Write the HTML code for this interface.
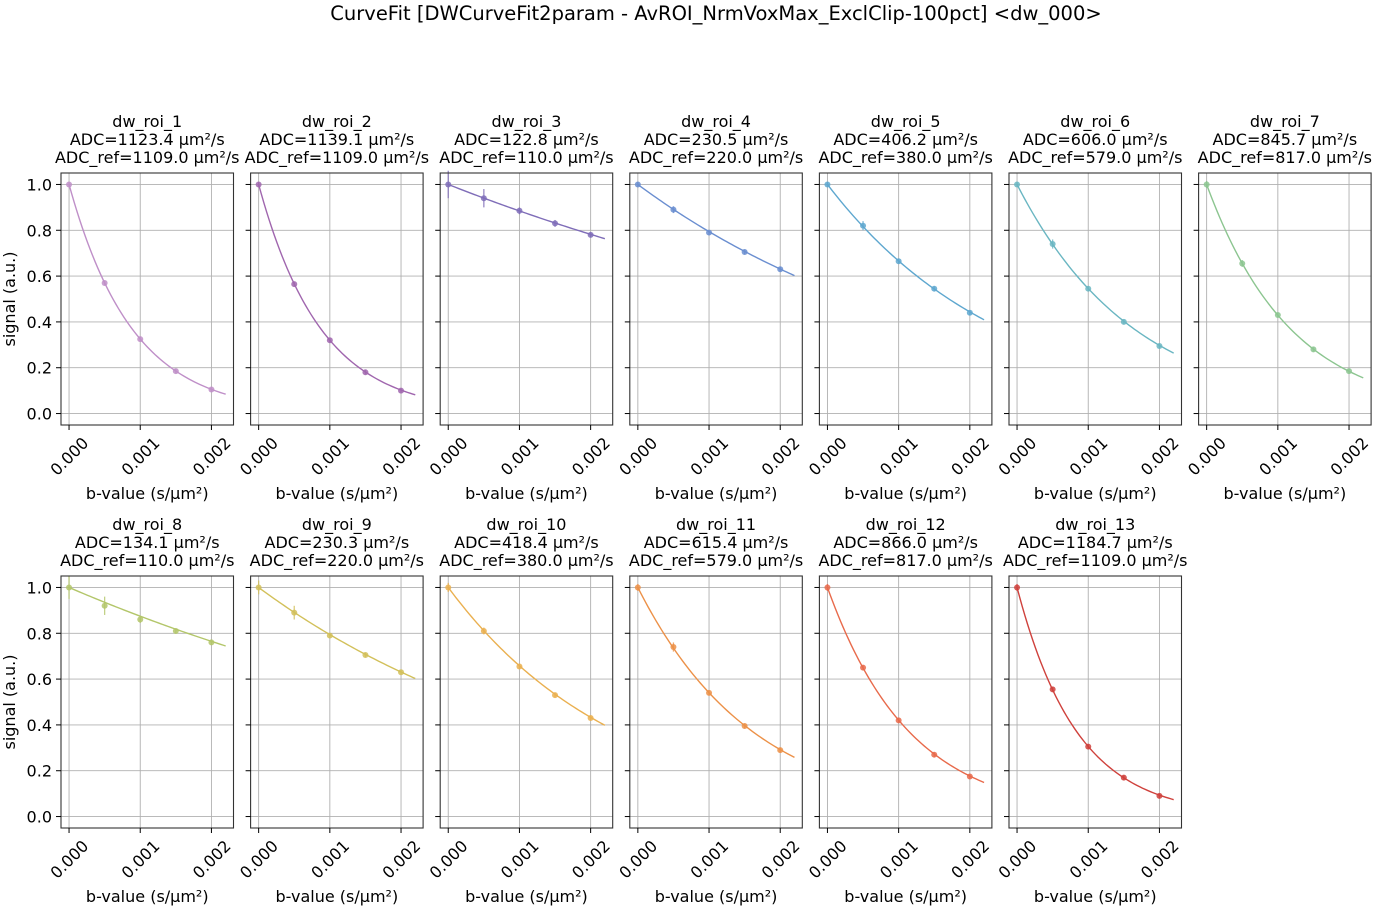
<!DOCTYPE html>
<html><head><meta charset="utf-8">
<style>
body{margin:0;background:#fff;}
svg{display:block;font-family:"DejaVu Sans","Liberation Sans",sans-serif;}
</style></head>
<body>
<svg id="fig" width="1378" height="909" viewBox="0 0 1378 909">
<text x="716" y="20" font-size="19.5" text-anchor="middle">CurveFit [DWCurveFit2param - AvROI_NrmVoxMax_ExclClip-100pct] &lt;dw_000&gt;</text>
</svg>
<script>
const roiNames = ["dw_roi_1","dw_roi_2","dw_roi_3","dw_roi_4","dw_roi_5","dw_roi_6","dw_roi_7","dw_roi_8","dw_roi_9","dw_roi_10","dw_roi_11","dw_roi_12","dw_roi_13"];
const adcFit = [1123.4,1139.1,122.8,230.5,406.2,606.0,845.7,134.1,230.3,418.4,615.4,866.0,1184.7];
const adcRef = [1109.0,1109.0,110.0,220.0,380.0,579.0,817.0,110.0,220.0,380.0,579.0,817.0,1109.0];
const bValues = [0,0.0005,0.001,0.0015,0.002];
const signals = [
 [1,0.57,0.325,0.185,0.105],
 [1,0.565,0.32,0.18,0.10],
 [1,0.94,0.885,0.83,0.78],
 [1,0.89,0.79,0.705,0.63],
 [1,0.82,0.665,0.545,0.44],
 [1,0.74,0.545,0.40,0.295],
 [1,0.655,0.43,0.28,0.185],
 [1,0.92,0.86,0.81,0.76],
 [1,0.89,0.79,0.705,0.63],
 [1,0.81,0.655,0.53,0.43],
 [1,0.74,0.54,0.395,0.29],
 [1,0.65,0.42,0.27,0.175],
 [1,0.555,0.305,0.17,0.09]];
const errs = [
 [0.01,0.01,0.01,0.01,0.01],[0.01,0.01,0.01,0.01,0.01],[0.06,0.04,0.015,0.015,0.01],
 [0.01,0.015,0.01,0.01,0.01],[0.01,0.02,0.01,0.01,0.01],[0.01,0.02,0.01,0.01,0.01],
 [0.015,0.015,0.01,0.01,0.01],[0.05,0.04,0.015,0.01,0.01],[0.03,0.03,0.01,0.01,0.01],
 [0.02,0.015,0.01,0.01,0.01],[0.015,0.02,0.01,0.01,0.01],[0.015,0.01,0.01,0.01,0.01],[0.015,0.01,0.01,0.01,0.01]];
const colors = ["#bf8fc8","#a066ae","#7f6db8","#6a8ed0","#5ea7cf","#6ab6c2","#8cc590","#b3c66a","#d2c05a","#eab050","#ec9148","#e86a4b","#cf413c"];
const yTicks = [0,0.2,0.4,0.6,0.8,1.0];
const xTicks = [0,0.001,0.002];

const NS="http://www.w3.org/2000/svg";
const svg=document.getElementById('fig');
function mk(tag,attrs,parent){const e=document.createElementNS(NS,tag);for(const k in attrs)e.setAttribute(k,attrs[k]);(parent||svg).appendChild(e);return e;}
const PW=172.5, PH=252, X0=61, DX=189.6;
const rowTop=[173,576];
const xmin=-0.000113,xmax=0.00231,ymin=-0.05,ymax=1.05;

roiNames.forEach((name,i)=>{
  const row=i<7?0:1, col=i<7?i:i-7;
  const left=X0+col*DX, top=rowTop[row];
  const sx=v=>left+(v-xmin)/(xmax-xmin)*PW;
  const sy=v=>top+(ymax-v)/(ymax-ymin)*PH;
  const g=mk('g',{});
  
  
  yTicks.forEach(t=>{mk('line',{x1:left,x2:left+PW,y1:sy(t),y2:sy(t),stroke:'#b0b0b0','stroke-width':0.9},g);});
  xTicks.forEach(t=>{mk('line',{x1:sx(t),x2:sx(t),y1:top,y2:top+PH,stroke:'#b0b0b0','stroke-width':0.9},g);});
  let d='';
  for(let k=0;k<=60;k++){const b=0.0022*k/60;const v=Math.exp(-b*adcFit[i]);d+=(k?'L':'M')+sx(b).toFixed(2)+','+sy(v).toFixed(2);}
  const c=mk('path',{d:d,fill:'none',stroke:colors[i],'stroke-width':1.4},g);
  
  
  bValues.forEach((b,j)=>{
    const v=signals[i][j], e=errs[i][j];
    mk('line',{x1:sx(b),x2:sx(b),y1:sy(v+e),y2:sy(v-e),stroke:colors[i],'stroke-width':1.3,opacity:0.8},g);
    const p=mk('circle',{cx:sx(b),cy:sy(v),r:3,fill:colors[i],opacity:0.85},g);
    
    
  });
  mk('rect',{x:left,y:top,width:PW,height:PH,fill:'none',stroke:'#333','stroke-width':1.1},g);
  xTicks.forEach(t=>{
    const x=sx(t), cy=top+PH+31;
    mk('line',{x1:x,x2:x,y1:top+PH,y2:top+PH+5,stroke:'#000'},g);
    const tx=mk('text',{x:x,y:cy+6,'font-size':16,'text-anchor':'middle',transform:`rotate(-45 ${x} ${cy})`},g);
    tx.textContent=t.toFixed(3);
  });
  yTicks.forEach(t=>{
    const y=sy(t);
    mk('line',{x1:left-5,x2:left,y1:y,y2:y,stroke:'#000'},g);
    if(col===0){const ty=mk('text',{x:left-9,y:y+6,'font-size':16,'text-anchor':'end'},g);ty.textContent=t.toFixed(1);}
  });
  const xl=mk('text',{x:left+PW/2,y:top+PH+74,'font-size':16,'text-anchor':'middle'},g);
  xl.textContent='b-value (s/µm²)';
  
  
  if(col===0){
    const yl=mk('text',{x:15,y:top+PH/2,'font-size':16,'text-anchor':'middle',transform:`rotate(-90 15 ${top+PH/2})`},g);
    yl.textContent='signal (a.u.)';
    
    
  }
  const lines=[name,'ADC='+adcFit[i].toFixed(1)+' µm²/s','ADC_ref='+adcRef[i].toFixed(1)+' µm²/s'];
  lines.forEach((s,k)=>{
    const t=mk('text',{x:left+PW/2,y:top-46+k*18,'font-size':16,'text-anchor':'middle'},g);
    t.textContent=s;
    
    
  });
});
</script>
</body></html>
